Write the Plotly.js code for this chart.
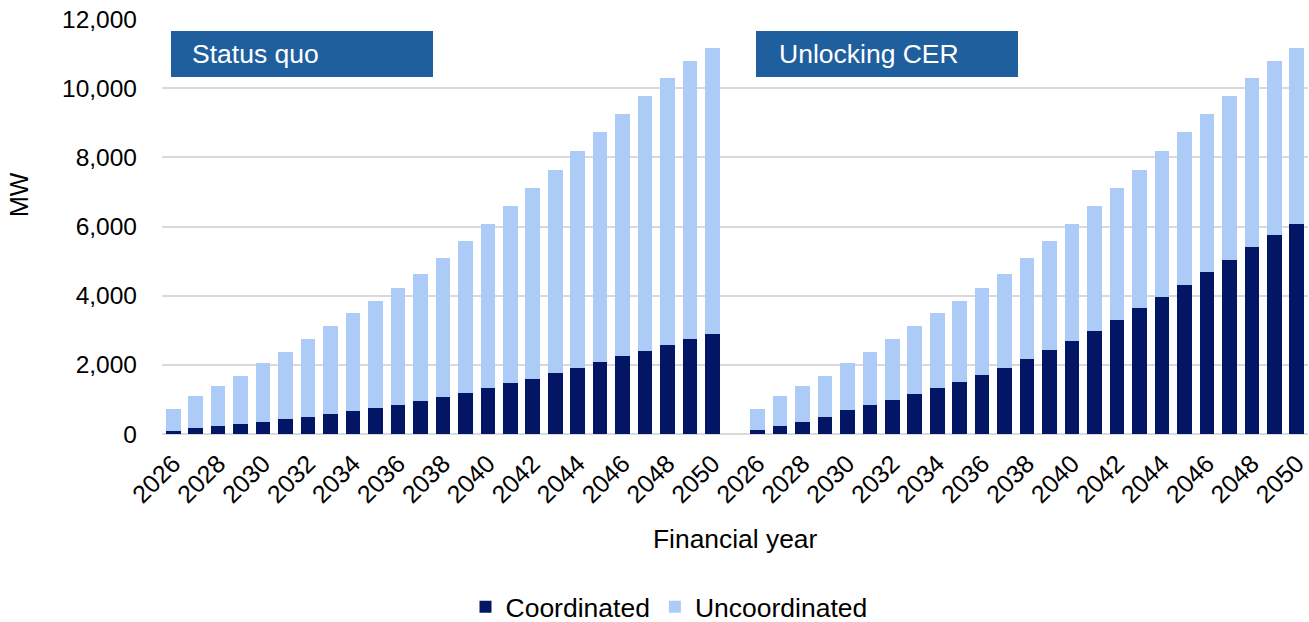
<!DOCTYPE html>
<html>
<head>
<meta charset="utf-8">
<script src="https://cdn.plot.ly/plotly-3.0.1.min.js"></script>
<style>html,body{margin:0;padding:0;background:#fff;}#chart{width:1309px;height:622px;}</style>
</head>
<body>
<div id="chart"></div>
<script>
const years = [2026,2027,2028,2029,2030,2031,2032,2033,2034,2035,2036,2037,2038,2039,2040,2041,2042,2043,2044,2045,2046,2047,2048,2049,2050];
const scenarios = ["Status quo", "Unlocking CER"];
const statusQuoCoordinated = [100,180,230,290,360,430,500,580,670,760,840,950,1070,1190,1330,1470,1600,1760,1920,2090,2250,2410,2580,2760,2900];
const statusQuoUncoordinated = [610,920,1160,1400,1680,1950,2240,2540,2840,3100,3370,3690,4020,4380,4740,5120,5500,5880,6260,6630,7000,7360,7700,8020,8250];
const cerCoordinated = [120,240,360,500,680,840,990,1170,1340,1510,1700,1920,2160,2420,2700,2990,3310,3630,3970,4320,4680,5040,5410,5760,6070];
const cerUncoordinated = [590,860,1030,1190,1360,1540,1750,1950,2170,2350,2510,2720,2930,3150,3370,3600,3790,4010,4210,4400,4570,4730,4870,5020,5080];
const tickYears = years.filter(y => (y - 2026) % 2 === 0);

const n = years.length;
const xSQ = years.map((y, i) => i);
const xCER = years.map((y, i) => i + n + 1);
const xAll = xSQ.concat(xCER);
const tickvals = tickYears.map(y => years.indexOf(y)).concat(tickYears.map(y => years.indexOf(y) + n + 1));
const ticktext = tickYears.concat(tickYears).map(String);

const font = "Liberation Sans, Arial, sans-serif";
const traces = [
  {type: "bar", name: "Coordinated", x: xAll, y: statusQuoCoordinated.concat(cerCoordinated),
   marker: {color: "#021665", line: {width: 0}}},
  {type: "bar", name: "Uncoordinated", x: xAll, y: statusQuoUncoordinated.concat(cerUncoordinated),
   marker: {color: "#ADCBF7", line: {width: 0}}}
];

const W = 1309, H = 622;
const plotL = 162, plotR = 1308, plotT = 19, plotB = 434;
const pw = plotR - plotL, ph = plotB - plotT;
function px(x){ return (x - plotL) / pw; }
function py(y){ return (plotB - y) / ph; }

const boxes = [
  {label: scenarios[0], x0: 171, x1: 433, tx: 190},
  {label: scenarios[1], x0: 756, x1: 1018, tx: 777}
];
const shapes = boxes.map(b => ({type: "rect", xref: "paper", yref: "paper",
  x0: px(b.x0), x1: px(b.x1), y0: py(77), y1: py(31), fillcolor: "#1F5F9E", line: {width: 0}, layer: "above"}));
const annotations = boxes.map(b => ({xref: "paper", yref: "paper", x: px(b.tx), y: py(54),
  xanchor: "left", yanchor: "middle", text: b.label, showarrow: false,
  font: {family: font, size: 26.5, color: "#ffffff"}}));
annotations.push({xref: "paper", yref: "paper", x: px(19), y: py(195), xanchor: "center", yanchor: "middle",
  text: "MW", textangle: -90, showarrow: false, font: {family: font, size: 25, color: "#000"}});
annotations.push({xref: "paper", yref: "paper", x: px(735), y: py(539), xanchor: "center", yanchor: "middle",
  text: "Financial year", showarrow: false, font: {family: font, size: 26.4, color: "#000"}});

const layout = {
  width: W, height: H,
  margin: {l: plotL, r: W - plotR, t: plotT, b: H - plotB, pad: 0, autoexpand: false},
  paper_bgcolor: "#fff", plot_bgcolor: "#fff",
  barmode: "stack", bargap: 0.35,
  font: {family: font, color: "#000"},
  xaxis: {range: [-0.5, 2 * n + 0.5], tickmode: "array", tickvals: tickvals, ticktext: ticktext,
    tickangle: -45, tickfont: {family: font, size: 25, color: "#000"}, showgrid: false, zeroline: false,
    showline: false, ticks: "", ticklabelstandoff: 9, ticklabeloverflow: "allow", fixedrange: true},
  yaxis: {range: [0, 12000], dtick: 2000, tickformat: ",d", tickfont: {family: font, size: 24.5, color: "#000"},
    showgrid: true, gridcolor: "#D9D9D9", gridwidth: 2, zeroline: true, zerolinecolor: "#D9D9D9", zerolinewidth: 2,
    showline: false, ticks: "", ticklabelstandoff: 24, fixedrange: true},
  shapes: shapes,
  annotations: annotations,
  showlegend: true,
  legend: {orientation: "h", xref: "container", yref: "container", x: 669 / W, y: 1 - 607 / H,
    xanchor: "center", yanchor: "middle",
    font: {family: font, size: 26.5, color: "#000"}, traceorder: "normal", itemwidth: 30, itemclick: false},
  hovermode: false
};

Plotly.newPlot("chart", traces, layout, {displayModeBar: false, staticPlot: true});
</script>
</body>
</html>
